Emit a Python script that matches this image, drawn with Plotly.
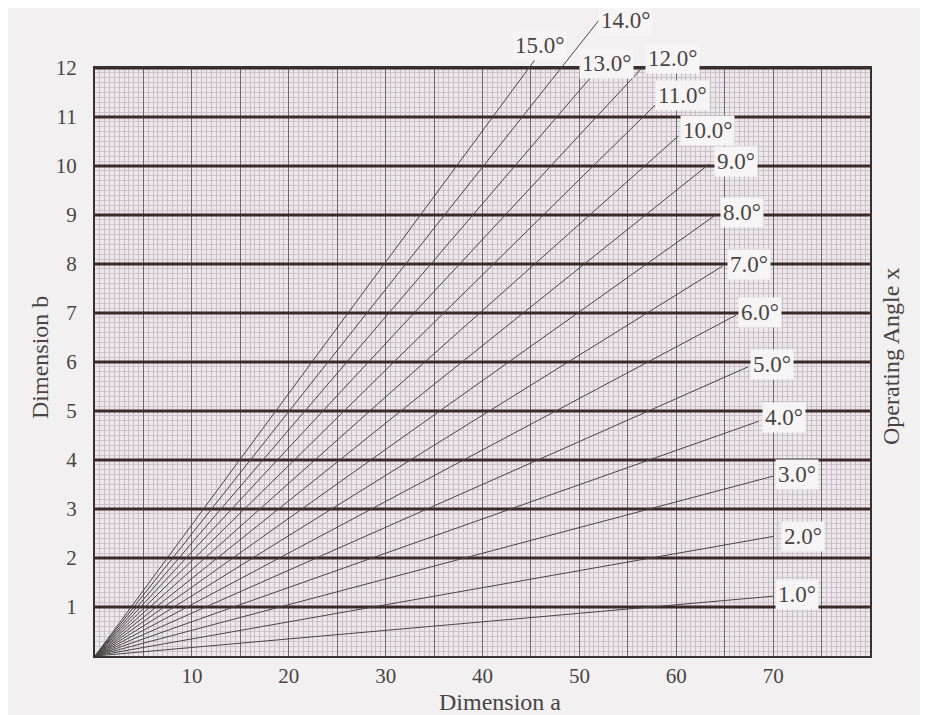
import plotly.graph_objects as go

# ---- data ----
angle_labels = ["1.0°", "2.0°", "3.0°", "4.0°", "5.0°", "6.0°", "7.0°", "8.0°",
                "9.0°", "10.0°", "11.0°", "12.0°", "13.0°", "14.0°", "15.0°"]
# end point of each angle line (Dimension a, Dimension b)
line_end_a = [70.0, 70.0, 70.0, 68.5, 67.4, 66.2, 64.8, 64.2, 63.4, 60.2, 57.8, 56.6, 52.0, 52.0, 46.5]
line_end_b = [1.22, 2.44, 3.67, 4.79, 5.90, 6.96, 7.96, 9.02, 10.04, 10.61, 11.24, 12.03, 12.00, 12.97, 12.46]
# label positions (left edge a, centre b)
label_a = [70.2, 70.8, 70.2, 68.9, 67.6, 66.4, 65.2, 64.5, 63.9, 60.4, 57.8, 56.8, 50.0, 51.9, 43.0]
label_b = [1.25, 2.43, 3.70, 4.87, 5.95, 7.01, 7.98, 9.06, 10.10, 10.72, 11.43, 12.19, 12.09, 12.97, 12.45]

x_grid_vals = list(range(0, 81, 5))
x_tick_labels = ["10", "20", "30", "40", "50", "60", "70"]
y_tick_vals = list(range(1, 13))
y_tick_labels = [str(v) for v in y_tick_vals]

# ---- layout geometry (figure sits 8px inside the page) ----
W, H = 912, 707
ML, MR, MT, MB = 87, 50, 2, 59
plot_w = W - ML - MR
plot_h = H - MT - MB
y_dom_top = (648 - 60) / plot_h
y2_top = 12 / y_dom_top

FONT = "Liberation Serif, Times New Roman, serif"
TXT = "#4a4444"


def px_x(fx):
    return (fx - ML) / plot_w


def px_y(fy):
    return (H - MB - fy) / plot_h


fig = go.Figure()

# tinted background of the graph paper
fig.add_shape(type="rect", xref="x", yref="y", x0=0, x1=80, y0=0, y1=12,
              fillcolor="#ebe7ea", line=dict(width=0), layer="below")

# heavy horizontal rules at each whole unit of b
for v in y_tick_vals:
    fig.add_shape(type="line", xref="x", yref="y", x0=0, x1=80, y0=v, y1=v,
                  line=dict(color="#3a2a2a", width=3), layer="between")

for i, lab in enumerate(angle_labels):
    fig.add_trace(go.Scatter(
        x=[0, line_end_a[i]], y=[0, line_end_b[i]],
        mode="lines", line=dict(color="#4b4646", width=1),
        xaxis="x2", yaxis="y2", showlegend=False, hoverinfo="skip"))
    fig.add_annotation(
        x=label_a[i], y=label_b[i], xref="x2", yref="y2",
        text=lab, showarrow=False, xanchor="left", yanchor="middle",
        font=dict(family=FONT, size=23, color=TXT),
        bgcolor="#f6f4f4", borderpad=2)

x_ticktext = [str(v) if str(v) in x_tick_labels else "" for v in x_grid_vals]

fig.update_layout(
    width=W, height=H,
    margin=dict(l=ML, r=MR, t=MT, b=MB, autoexpand=False),
    paper_bgcolor="#f2f0f0",
    plot_bgcolor="rgba(0,0,0,0)",
    font=dict(family=FONT, color=TXT),
    xaxis=dict(
        range=[0, 80], anchor="y", domain=[0, 1], automargin=False,
        tickmode="array", tickvals=x_grid_vals, ticktext=x_ticktext,
        tickfont=dict(size=21, family=FONT, color=TXT),
        showgrid=True, gridcolor="#6e686c", gridwidth=1.2,
        minor=dict(dtick=0.5, tick0=0, showgrid=True, gridcolor="#c8bfc6", gridwidth=1),
        showline=True, linecolor="#3a3030", linewidth=2, mirror=True,
        zeroline=False, ticks="",
    ),
    yaxis=dict(
        range=[0, 12], domain=[0, y_dom_top], anchor="x", automargin=False,
        tickmode="array", tickvals=y_tick_vals, ticktext=y_tick_labels,
        tickfont=dict(size=21, family=FONT, color=TXT),
        showgrid=False,
        minor=dict(dtick=0.1, tick0=0, showgrid=True, gridcolor="#cec2ca", gridwidth=1),
        showline=True, linecolor="#3a3030", linewidth=2, mirror=True,
        zeroline=False, ticks="outside", ticklen=12, tickcolor="rgba(0,0,0,0)",
    ),
    xaxis2=dict(
        range=[0, 80], domain=[0, 1], anchor="y2", visible=False, automargin=False,
        showgrid=False, zeroline=False,
    ),
    yaxis2=dict(
        range=[0, y2_top], domain=[0, 1], anchor="x2", visible=False, automargin=False,
        showgrid=False, zeroline=False,
    ),
)

# axis titles
fig.add_annotation(x=px_x(492), y=px_y(709), xref="paper", yref="paper",
                   text="Dimension a", showarrow=False, yanchor="bottom",
                   font=dict(family=FONT, size=24, color=TXT))
fig.add_annotation(x=px_x(17), y=px_y(350), xref="paper", yref="paper",
                   text="Dimension b", showarrow=False, textangle=-90,
                   font=dict(family=FONT, size=24, color=TXT))
fig.add_annotation(x=px_x(898), y=px_y(349), xref="paper", yref="paper",
                   text="Operating Angle x", showarrow=False, textangle=-90,
                   font=dict(family=FONT, size=24, color=TXT))

fig.write_html("out.html")
